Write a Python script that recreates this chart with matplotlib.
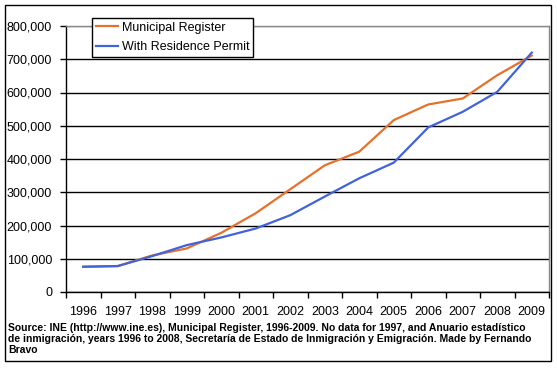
import numpy as np
import matplotlib
matplotlib.use("Agg")
import matplotlib.pyplot as plt
from matplotlib.patches import Rectangle
from matplotlib.ticker import FuncFormatter

years = ["1996", "1997", "1998", "1999", "2000", "2001", "2002",
         "2003", "2004", "2005", "2006", "2007", "2008", "2009"]
municipal = [76000, 78000, 110000, 131000, 178000, 237000, 309000,
             381000, 422000, 517000, 564000, 582000, 652000, 711000]
permit = [76000, 78000, 108000, 141000, 164000, 191000, 231000,
          287000, 342000, 389000, 495000, 542000, 602000, 720000]
yticks = [0, 100000, 200000, 300000, 400000, 500000, 600000, 700000, 800000]
source = ("Source: INE (http://www.ine.es), Municipal Register, 1996-2009. No data for 1997, and Anuario estad\u00edstico\n"
          "de inmigraci\u00f3n, years 1996 to 2008, Secretar\u00eda de Estado de Inmigraci\u00f3n y Emigraci\u00f3n. Made by Fernando\n"
          "Bravo")

W, H = 557, 368
plt.rcParams["font.family"] = ["Liberation Sans", "DejaVu Sans"]
fig = plt.figure(figsize=(W / 100, H / 100), dpi=100)
ax = fig.add_axes([66 / W, 1 - 292 / H, (549 - 66) / W, (292 - 26) / H])

x = np.arange(len(years))
ax.plot(x, municipal, color="#E8702A", lw=1.6, label="Municipal Register", zorder=3)
ax.plot(x, permit, color="#4262DC", lw=1.6, label="With Residence Permit", zorder=4)

ax.set_xlim(-0.5, len(years) - 0.5)
ax.set_ylim(0, 800000)
ax.set_yticks(yticks)
ax.yaxis.set_major_formatter(FuncFormatter(lambda v, p: f"{int(v):,}"))
ax.set_xticks(x)
ax.set_xticklabels(years)
ax.set_xticks(np.arange(-0.5, len(years)), minor=True)
ax.tick_params(axis="x", which="major", length=0, pad=10, labelsize=9)
ax.tick_params(axis="x", which="minor", length=4, width=1, color="black", direction="out")
ax.tick_params(axis="y", length=4, width=1, pad=6, labelsize=9)

ax.grid(axis="y", color="black", lw=1)
ax.yaxis.get_gridlines()[-1].set_color("#888888")
ax.set_axisbelow(True)
for s in ["top", "right"]:
    ax.spines[s].set_color("#888888")
    ax.spines[s].set_linewidth(1)
for s in ["left", "bottom"]:
    ax.spines[s].set_color("black")
    ax.spines[s].set_linewidth(1)

leg = fig.legend(loc="upper left", bbox_to_anchor=(92 / W, 1 - 18 / H), fontsize=9,
                 frameon=True, fancybox=False, edgecolor="black", framealpha=1,
                 handlelength=1.8, handletextpad=0.3, borderpad=0.3, labelspacing=0.6,
                 borderaxespad=0)
leg.get_frame().set_linewidth(1)

fig.text(8 / W, 1 - 323 / H, source, fontsize=7.5, fontweight="bold", va="top",
         ha="left", linespacing=1.12)

fig.patches.append(Rectangle((5 / W, 1 - 361 / H), 546 / W, 356 / H, transform=fig.transFigure,
                             fill=False, edgecolor="black", lw=1))

fig.savefig("out.png", dpi=100)
